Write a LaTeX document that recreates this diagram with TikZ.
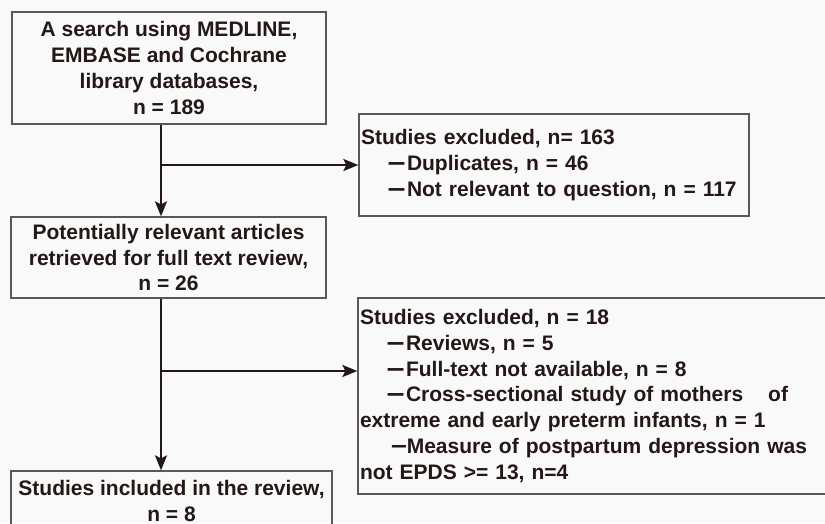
\documentclass[tikz,border=0pt]{standalone}
\usepackage{fontspec}
\usepackage{graphicx}
\setmainfont{Liberation Sans}
\newfontfamily\cjk{Noto Sans CJK SC}
\usetikzlibrary{arrows.meta,positioning}
\definecolor{inkc}{HTML}{231815}
\definecolor{framec}{HTML}{595757}
\definecolor{paperc}{HTML}{F9F9F9}
\tikzset{
box/.style = {draw=framec, line width=1.3pt, text=inkc,
              inner xsep=2pt, inner ysep=0pt,
              font=\fontsize{21}{25.7}\selectfont\bfseries},
flow/.style = {draw=inkc, line width=2pt,
               -{Stealth[length=15pt,width=12pt,inset=3pt]}}
}
\newcommand\exitem[1]{\hspace*{27pt}{\cjk\fontsize{17}{17}\selectfont 一}\hspace{2pt}#1}

\begin{document}
\begin{tikzpicture}[x=1pt,y=-1pt]
  \fill[paperc] (0,0) rectangle (825,523);
  \useasboundingbox (0,0) rectangle (825,523);

  \node[box, align=center, minimum width=314pt, minimum height=112pt] (search) at (169,68)
    {A search using MEDLINE,\\EMBASE and Cochrane\\library databases,\\n = 189};
  \node[box, align=center, minimum width=315pt, minimum height=81pt] (full) at (168.5,257.5)
    {Potentially relevant articles\\retrieved for full text review,\\n = 26};
  \node[box, align=center, minimum width=321pt, minimum height=60pt] (incl) at (171.5,501)
    {Studies included in the review,\\n = 8};

  \node[box, align=left, text width=386pt, minimum height=102pt] (excl1) at (554,165)
    {Studies excluded, n= 163\\
     \exitem{Duplicates, n = 46}\\
     \exitem{Not relevant to question, n = 117}};
  \node[box, align=left, text width=498pt, minimum height=196pt] (excl2) at (609,396)
    {Studies excluded, n = 18\\
     \exitem{Reviews, n = 5}\\
     \exitem{Full-text not available, n = 8}\\
     \exitem{Cross-sectional study of mothers\hspace{25pt}of}\\
     extreme and early preterm infants, n = 1\\
     \hspace*{31pt}\scalebox{1.35}[1.2]{–}Measure of postpartum depression was\\
     not EPDS >= 13, n=4};

  \coordinate (split1) at (161,165);
  \coordinate (split2) at (161,371);
  \draw[flow] (search.south -| split1) -- (full.north -| split1);
  \draw[flow] (full.south -| split2) -- (incl.north -| split2);
  \foreach \s/\t in {split1/excl1, split2/excl2}{
    \draw[flow] (\s) -- (\s -| \t.west);
  }
\end{tikzpicture}
\end{document}
